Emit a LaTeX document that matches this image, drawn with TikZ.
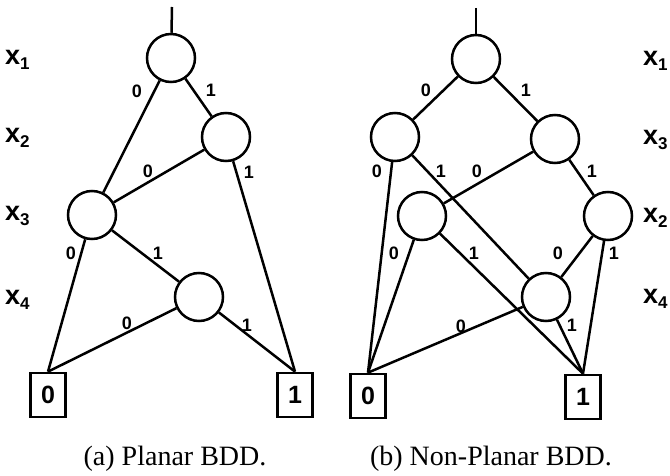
\documentclass[tikz,border=0pt]{standalone}
\usepackage{fontspec}
\setmainfont{Liberation Serif}
\newfontfamily\lblfont{Liberation Sans}
\begin{document}
\begin{tikzpicture}[x=1pt,y=-1pt,
  vnode/.style={circle,draw,line width=2.5pt,minimum size=48pt,inner sep=0pt},
  term/.style={rectangle,draw,line width=2.7pt,minimum width=35pt,minimum height=44pt,inner sep=0pt,font=\lblfont\bfseries\fontsize{25}{25}\selectfont},
  conn/.style={line width=2.5pt},
  elab/.style={inner sep=0pt,font=\lblfont\bfseries\fontsize{18}{18}\selectfont},
  varlab/.style={inner sep=0pt,anchor=west},
  captext/.style={inner sep=0pt,font=\fontsize{28}{28}\selectfont}]
\newcommand{\xv}[1]{{\lblfont\bfseries\fontsize{27}{27}\selectfont x}{\lblfont\bfseries\fontsize{17}{17}\selectfont\raisebox{-5pt}{#1}}}
\useasboundingbox (0,0) rectangle (670,476);
% ---- left panel ----
\node[vnode] (L1) at (171,58) {};
\node[vnode] (L2) at (226,137) {};
\node[vnode] (L3) at (92,215) {};
\node[vnode] (L4) at (199,297) {};
\node[term] (T0) at (48,395) {0};
\node[term] (T1) at (295,395) {1};
\coordinate (topL) at (172,7);
\draw[conn] (topL) -- (L1);
\draw[conn] (L1) -- (L3);
\draw[conn] (L1) -- (L2);
\draw[conn] (L2) -- (L3);
\draw[conn] (L2) -- (T1.north);
\draw[conn] (L3) -- (T0.north);
\draw[conn] (L3) -- (L4);
\draw[conn] (L4) -- (T0.north);
\draw[conn] (L4) -- (T1.north);
\node[elab] (la1) at (137,91) {0};
\node[elab] (la2) at (211,90) {1};
\node[elab] (la3) at (148,171) {0};
\node[elab] (la4) at (249,172) {1};
\node[elab] (la5) at (71,253) {0};
\node[elab] (la6) at (158,253) {1};
\node[elab] (la7) at (127,323) {0};
\node[elab] (la8) at (247,325) {1};
\node[varlab] (vx1) at (5,60) {\xv{1}};
\node[varlab] (vx2) at (5,138) {\xv{2}};
\node[varlab] (vx3) at (5,216) {\xv{3}};
\node[varlab] (vx4) at (5,300) {\xv{4}};
\node[captext] (capa) at (175,459) {(a) Planar BDD.};
% ---- right panel ----
\node[vnode] (R1) at (476,59) {};
\node[vnode] (R3a) at (395,137) {};
\node[vnode] (R3b) at (555,139) {};
\node[vnode] (R2a) at (422,216) {};
\node[vnode] (R2b) at (608,216) {};
\node[vnode] (R4) at (546,297) {};
\node[term] (U0) at (368,396) {0};
\node[term] (U1) at (583,397) {1};
\coordinate (topR) at (476,8);
\draw[conn] (topR) -- (R1);
\draw[conn] (R1) -- (R3a);
\draw[conn] (R1) -- (R3b);
\draw[conn] (R3a) -- (U0.north);
\draw[conn] (R3a) -- (R4);
\draw[conn] (R3b) -- (R2a);
\draw[conn] (R3b) -- (R2b);
\draw[conn] (R2a) -- (U0.north);
\draw[conn] (R2a) -- (U1.north);
\draw[conn] (R2b) -- (R4);
\draw[conn] (R2b) -- (U1.north);
\draw[conn] (R4) -- (U0.north);
\draw[conn] (R4) -- (U1.north);
\node[elab] (lb1) at (426,90) {0};
\node[elab] (lb2) at (526,90) {1};
\node[elab] (lb3) at (377,171) {0};
\node[elab] (lb4) at (441,171) {1};
\node[elab] (lb5) at (477,171) {0};
\node[elab] (lb6) at (592,171) {1};
\node[elab] (lb7) at (394,253) {0};
\node[elab] (lb8) at (474,253) {1};
\node[elab] (lb9) at (558,253) {0};
\node[elab] (lb10) at (614,253) {1};
\node[elab] (lb11) at (461,326) {0};
\node[elab] (lb12) at (572,325) {1};
\node[varlab] (wx1) at (643,61) {\xv{1}};
\node[varlab] (wx3) at (643,140) {\xv{3}};
\node[varlab] (wx2) at (643,218) {\xv{2}};
\node[varlab] (wx4) at (643,299) {\xv{4}};
\node[captext] (capb) at (491,459) {(b) Non-Planar BDD.};
\end{tikzpicture}
\end{document}
